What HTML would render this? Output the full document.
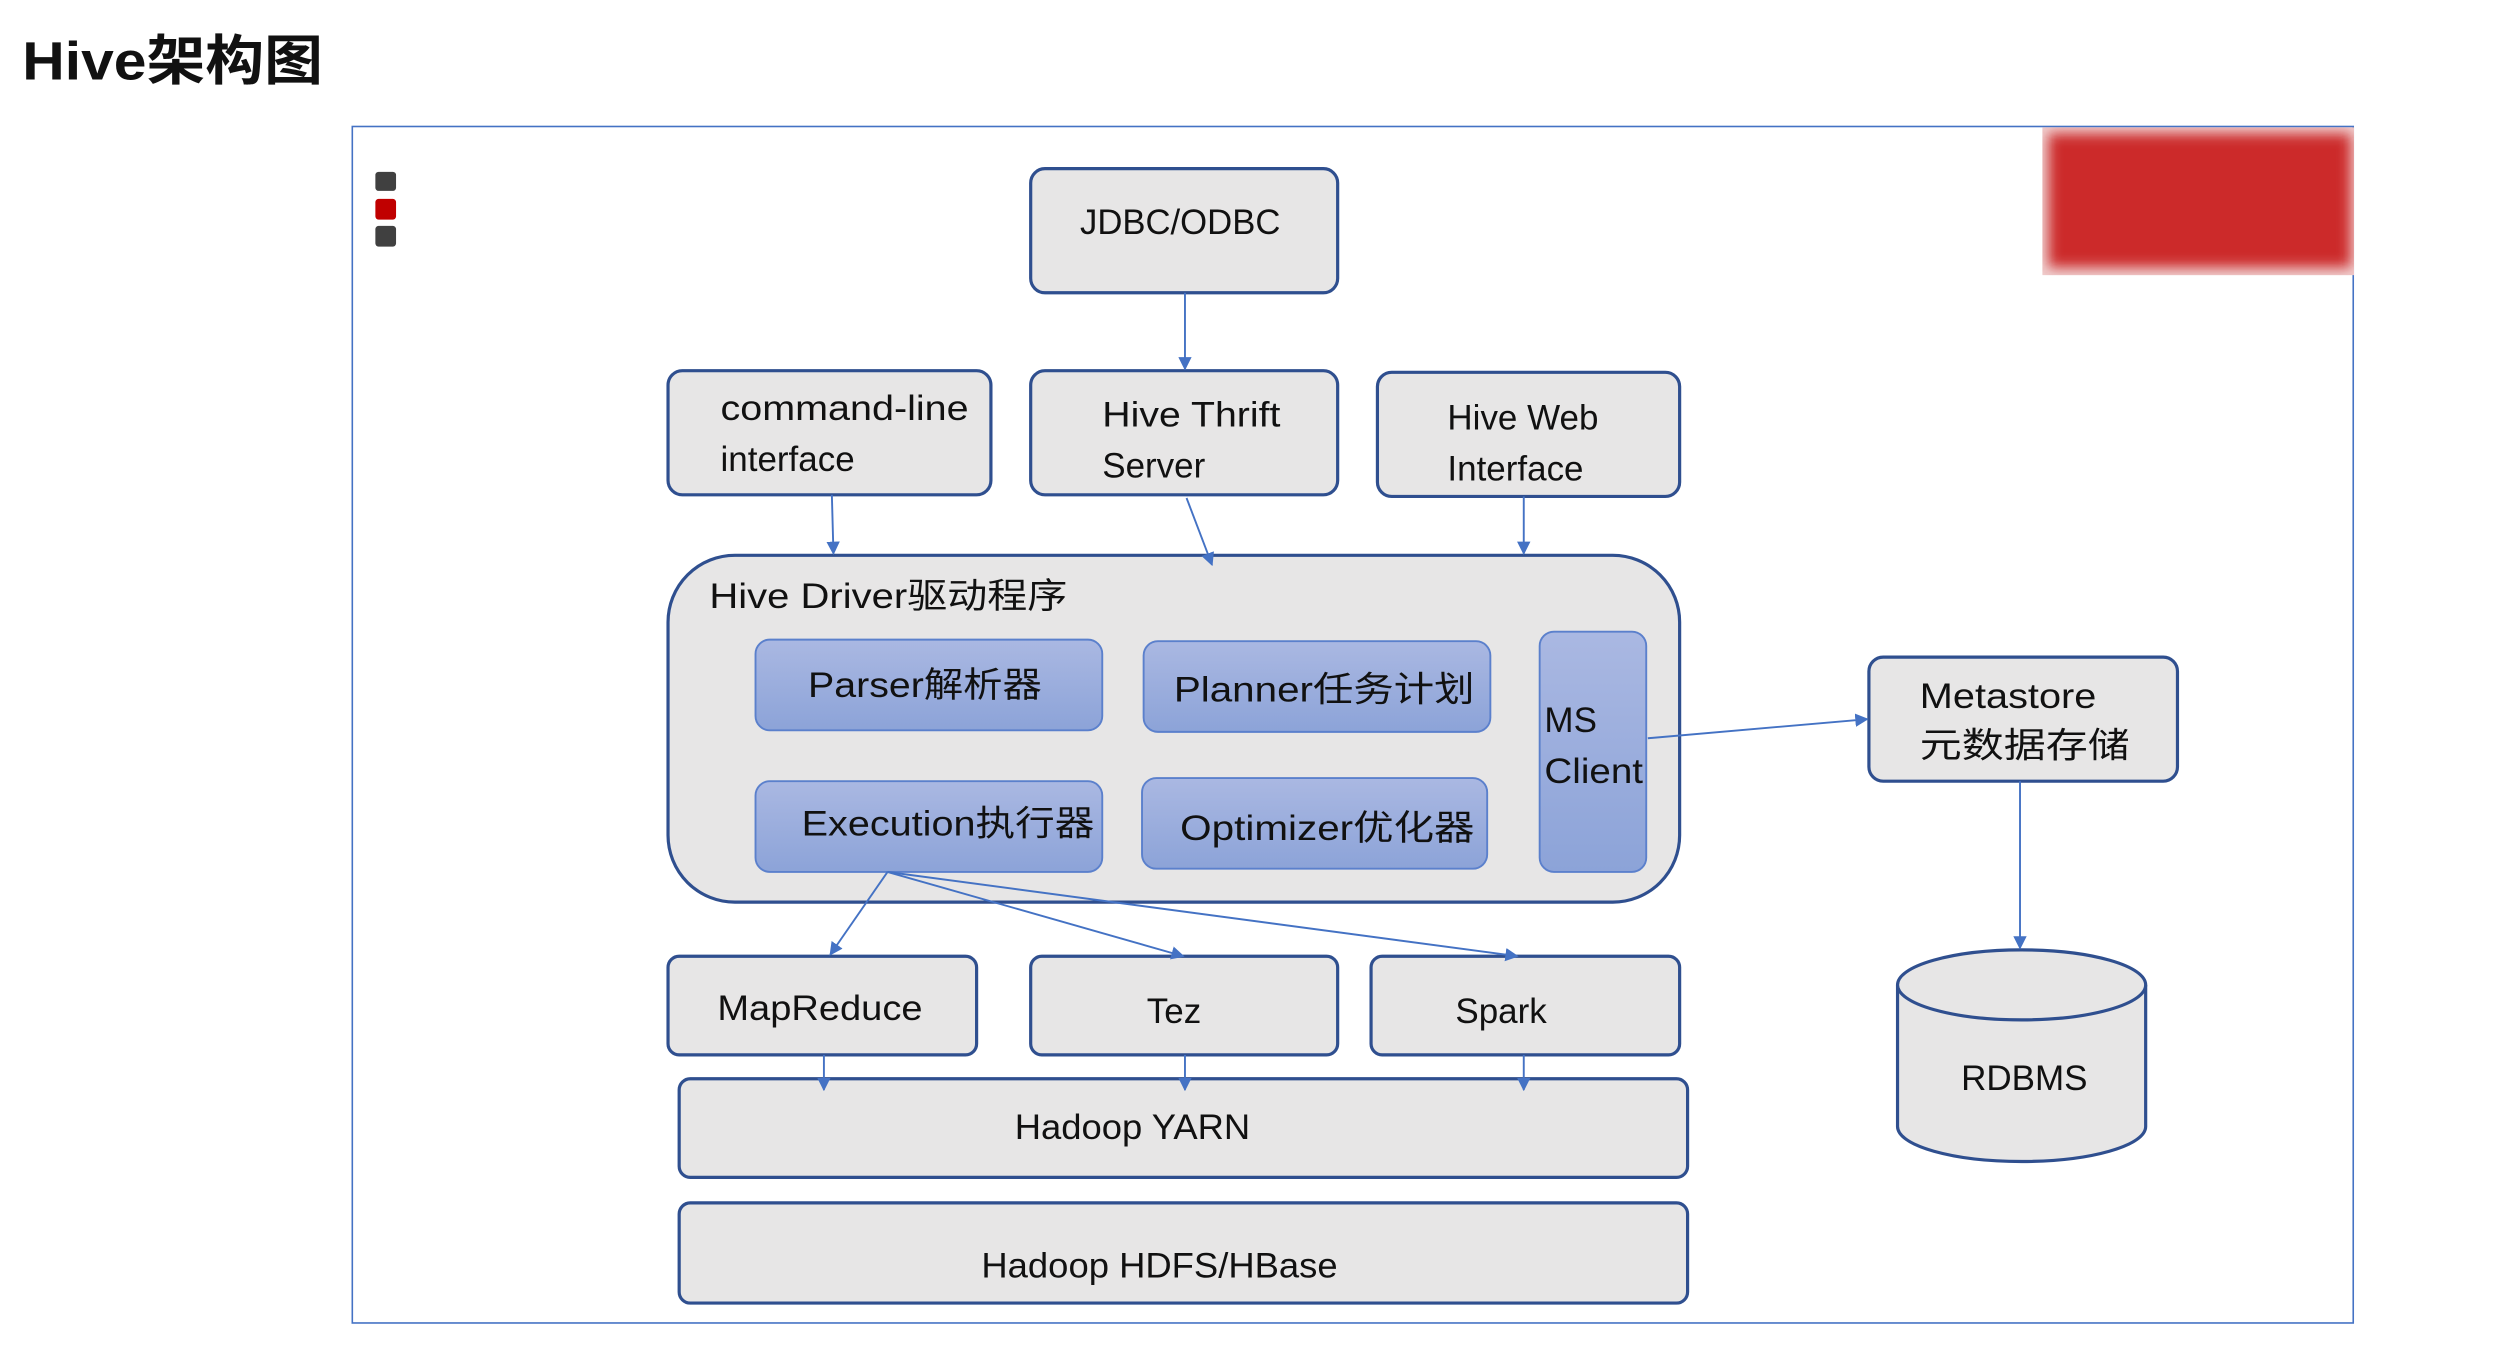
<!DOCTYPE html>
<html><head><meta charset="utf-8"><style>
html,body{margin:0;padding:0;background:#fff;width:2494px;height:1354px;overflow:hidden}
svg{display:block}
text{font-family:"Liberation Sans","Noto Sans CJK SC",sans-serif;fill:#111}
</style></head><body>
<svg width="2494" height="1354" viewBox="0 0 1568 851" preserveAspectRatio="none" xmlns="http://www.w3.org/2000/svg">
<defs>
<linearGradient id="g" x1="0" y1="0" x2="0" y2="1"><stop offset="0" stop-color="#aab8e2"/><stop offset="1" stop-color="#8ca3d8"/></linearGradient>
<marker id="a" viewBox="0 0 10 10" refX="9" refY="5" markerWidth="7" markerHeight="7" orient="auto"><path d="M0,0L10,5L0,10z" fill="#4472c4"/></marker>
<filter id="b" x="-10%" y="-10%" width="120%" height="120%"><feGaussianBlur stdDeviation="4"/></filter>
<clipPath id="c"><rect x="1284" y="80" width="196" height="93"/></clipPath>
</defs>
<text x="14" y="50" font-size="34" font-weight="bold" textLength="189" lengthAdjust="spacingAndGlyphs">Hive架构图</text>
<rect x="221.5" y="79.5" width="1258" height="752" fill="#fff" stroke="#4472c4" stroke-width="1"/>
<g clip-path="url(#c)"><rect x="1284" y="80" width="196" height="93" fill="#f0d0d0"/><g filter="url(#b)"><rect x="1288" y="84" width="190" height="84" fill="#cc2a2c"/></g></g>
<rect x="236" y="108" width="13" height="12" rx="2" fill="#404040"/>
<rect x="236" y="125" width="13" height="13" rx="2" fill="#c00000"/>
<rect x="236" y="142" width="13" height="13" rx="2" fill="#404040"/>
<g fill="#e7e6e6" stroke="#2f4f8f" stroke-width="2">
<rect x="648" y="106" width="193" height="78" rx="9"/>
<rect x="420" y="233" width="203" height="78" rx="9"/>
<rect x="648" y="233" width="193" height="78" rx="9"/>
<rect x="866" y="234" width="190" height="78" rx="9"/>
<rect x="420" y="349" width="636" height="218" rx="42"/>
<rect x="1175" y="413" width="194" height="78" rx="9"/>
<rect x="420" y="601" width="194" height="62" rx="7"/>
<rect x="648" y="601" width="193" height="62" rx="7"/>
<rect x="862" y="601" width="194" height="62" rx="7"/>
<rect x="427" y="678" width="634" height="62" rx="7"/>
<rect x="427" y="756" width="634" height="63" rx="7"/>
<path d="M1193,619 L1193,708 A78,22 0 0 0 1349,708 L1349,619"/>
<ellipse cx="1271" cy="619" rx="78" ry="22"/>
</g>
<g fill="url(#g)" stroke="#5b80cc" stroke-width="1.2">
<rect x="475" y="402" width="218" height="57" rx="9"/>
<rect x="719" y="403" width="218" height="57" rx="9"/>
<rect x="475" y="491" width="218" height="57" rx="9"/>
<rect x="718" y="489" width="217" height="57" rx="9"/>
<rect x="968" y="397" width="67" height="151" rx="9"/>
</g>
<g stroke="#4472c4" stroke-width="1.2" fill="none" marker-end="url(#a)">
<line x1="745" y1="184" x2="745" y2="232"/>
<line x1="523" y1="311" x2="524" y2="348"/>
<line x1="746" y1="313" x2="762" y2="355"/>
<line x1="958" y1="312" x2="958" y2="348"/>
<line x1="1036" y1="464" x2="1174" y2="452"/>
<line x1="1270" y1="491" x2="1270" y2="596"/>
<line x1="558" y1="548" x2="522" y2="600"/>
<line x1="558" y1="548" x2="744" y2="601"/>
<line x1="558" y1="548" x2="954" y2="601"/>
<line x1="518" y1="663" x2="518" y2="685"/>
<line x1="745" y1="663" x2="745" y2="685"/>
<line x1="958" y1="663" x2="958" y2="685"/>
</g>
<g font-size="22" lengthAdjust="spacingAndGlyphs">
<text x="679" y="147" textLength="126" lengthAdjust="spacingAndGlyphs">JDBC/ODBC</text>
<text x="453" y="264" textLength="156" lengthAdjust="spacingAndGlyphs">command-line</text>
<text x="453" y="296">interface</text>
<text x="693" y="268" textLength="112" lengthAdjust="spacingAndGlyphs">Hive Thrift</text>
<text x="693" y="300">Server</text>
<text x="910" y="270">Hive Web</text>
<text x="910" y="302">Interface</text>
<text x="446" y="382" textLength="225" lengthAdjust="spacingAndGlyphs">Hive Driver驱动程序</text>
<text x="508" y="438" textLength="147" lengthAdjust="spacingAndGlyphs">Parser解析器</text>
<text x="738" y="441" textLength="189" lengthAdjust="spacingAndGlyphs">Planner任务计划</text>
<text x="504" y="525" textLength="184" lengthAdjust="spacingAndGlyphs">Execution执行器</text>
<text x="742" y="528" textLength="185" lengthAdjust="spacingAndGlyphs">Optimizer优化器</text>
<text x="971" y="460">MS</text>
<text x="971" y="492" textLength="62" lengthAdjust="spacingAndGlyphs">Client</text>
<text x="1207" y="445" textLength="111" lengthAdjust="spacingAndGlyphs">Metastore</text>
<text x="1207" y="476" textLength="132" lengthAdjust="spacingAndGlyphs">元数据存储</text>
<text x="1233" y="685">RDBMS</text>
<text x="451" y="641" textLength="129" lengthAdjust="spacingAndGlyphs">MapReduce</text>
<text x="721" y="643">Tez</text>
<text x="915" y="643">Spark</text>
<text x="638" y="716" textLength="148" lengthAdjust="spacingAndGlyphs">Hadoop YARN</text>
<text x="617" y="803" textLength="224" lengthAdjust="spacingAndGlyphs">Hadoop HDFS/HBase</text>
</g>
</svg>
</body></html>
